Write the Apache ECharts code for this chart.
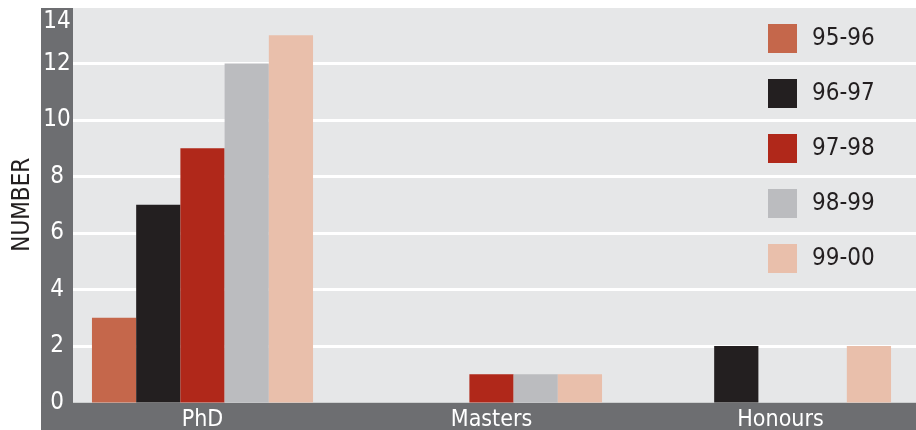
<!DOCTYPE html>
<html>
<head>
<meta charset="utf-8">
<script src="https://cdn.jsdelivr.net/npm/echarts@6/dist/echarts.min.js"></script>
<style>
  html, body { margin: 0; padding: 0; background: #ffffff; }
  #chart { width: 916px; height: 430px; }
</style>
</head>
<body>
<div id="chart"></div>
<script>
// Postgraduate and honours completions by year
const categories = ['PhD', 'Masters', 'Honours'];
const years = ['95-96', '96-97', '97-98', '98-99', '99-00'];
const values9596 = [3, 0, 0];
const values9697 = [7, 0, 2];
const values9798 = [9, 1, 0];
const values9899 = [12, 1, 0];
const values9900 = [13, 1, 2];
const yTicks = { min: 0, max: 14, step: 2 };

const seriesValues = [values9596, values9697, values9798, values9899, values9900];
const colors = ['#c5674b', '#231f20', '#b0281a', '#bbbcbf', '#e9bfab'];

const FONT = '"Liberation Sans Narrow", "DejaVu Sans Condensed", "Roboto Condensed", sans-serif';
const BAND = '#6d6e71';
const PLOT_BG = '#e6e7e8';

const chart = echarts.init(document.getElementById('chart'), null, { renderer: 'canvas' });

chart.setOption({
  animation: false,
  backgroundColor: '#ffffff',
  color: colors,
  textStyle: { fontFamily: FONT },
  graphic: [
    { type: 'rect', z: -1, shape: { x: 41, y: 8, width: 32, height: 422 }, style: { fill: BAND } },
    { type: 'rect', z: -1, shape: { x: 41, y: 402.5, width: 875, height: 28 }, style: { fill: BAND } },
    { type: 'rect', z: -1, shape: { x: 73, y: 8, width: 843, height: 394.5 }, style: { fill: PLOT_BG } }
  ],
  legend: {
    orient: 'vertical',
    left: 768,
    top: 24,
    padding: 0,
    itemWidth: 29,
    itemHeight: 29,
    itemGap: 26,
    icon: 'rect',
    data: years,
    textStyle: { fontFamily: FONT, fontSize: 24, color: '#231f20', padding: [0, 0, 0, 10] }
  },
  grid: [
    { left: 73, right: 0, top: 7, bottom: 27.5, outerBoundsMode: 'none', containLabel: false },
    { left: 58, width: 867, top: 7, bottom: 27.5, outerBoundsMode: 'none', containLabel: false }
  ],
  xAxis: [
    { gridIndex: 0, type: 'category', data: categories, show: false },
    {
      gridIndex: 1, type: 'category', data: categories,
      axisLine: { show: false }, axisTick: { show: false },
      axisLabel: { color: '#ffffff', fontSize: 23, fontFamily: FONT, margin: 6 }
    }
  ],
  yAxis: [
    {
      gridIndex: 0, type: 'value', min: yTicks.min, max: yTicks.max, interval: yTicks.step,
      axisLine: { show: false }, axisTick: { show: false },
      splitLine: { show: true, showMinLine: false, showMaxLine: false, lineStyle: { color: '#ffffff', width: 3 } },
      axisLabel: {
        color: '#ffffff', fontSize: 24, fontFamily: FONT, align: 'center', margin: 16, lineHeight: 30,
        formatter: v => (v === yTicks.max ? '\n' + v : String(v))
      },
      name: 'NUMBER', nameLocation: 'middle', nameRotate: 90, nameGap: 38, nameMoveOverlap: false,
      nameTextStyle: { color: '#231f20', fontSize: 24, fontFamily: FONT }
    },
    { gridIndex: 1, type: 'value', min: yTicks.min, max: yTicks.max, interval: yTicks.step, show: false, splitLine: { show: false } }
  ],
  series: years.map((name, i) => ({
    name,
    type: 'bar',
    xAxisIndex: 1,
    yAxisIndex: 1,
    data: seriesValues[i],
    barGap: '0%',
    barCategoryGap: '23.5%',
    itemStyle: { color: colors[i] }
  }))
});
</script>
</body>
</html>
